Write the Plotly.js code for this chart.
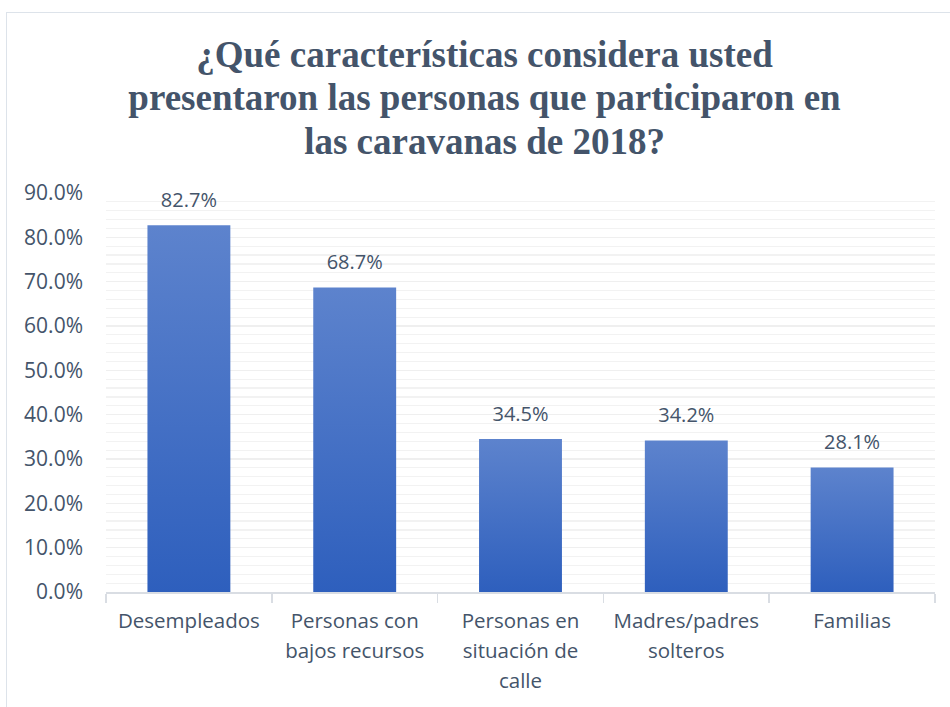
<!DOCTYPE html>
<html><head><meta charset="utf-8">
<script src="https://cdn.plot.ly/plotly-3.0.1.min.js"></script>
<style>
html,body{margin:0;padding:0;background:#fff;overflow:hidden;}
#wrap{position:relative;width:950px;height:707px;}
#chart{position:absolute;left:0;top:0;width:950px;height:707px;}
#frame{position:absolute;left:6px;top:12px;width:960px;height:720px;border:1.5px solid #dde3ea;pointer-events:none;}
</style></head>
<body>
<div id="wrap"><div id="chart"></div><div id="frame"></div></div>
<script>
const categories = ["Desempleados", "Personas con<br>bajos recursos", "Personas en<br>situación de<br>calle", "Madres/padres<br>solteros", "Familias"];
const values = [0.827, 0.687, 0.345, 0.342, 0.281];
const titleText = "¿Qué características considera usted<br>presentaron las personas que participaron en<br>las caravanas de 2018?";

const textColor = "#44546A";
const trace = {
  type: "bar",
  x: categories,
  y: values,
  width: 0.5,
  marker: {color: "#4674C8"},
  text: values.map(v => (v*100).toFixed(1) + "%"),
  textposition: "outside",
  textfont: {family: "Open Sans", size: 20, color: textColor},
  cliponaxis: false,
  hoverinfo: "none"
};
const layout = {
  width: 950, height: 707,
  margin: {l: 106, r: 15, t: 193, b: 115},
  paper_bgcolor: "#fff", plot_bgcolor: "#fff",
  showlegend: false,
  bargap: 0.5,
  title: {
    text: titleText,
    font: {family: "Liberation Serif", size: 37, color: textColor, weight: "bold"},
    x: 0.51, xref: "container", xanchor: "center",
    y: 1 - 67/707, yref: "container", yanchor: "top"
  },
  xaxis: {
    type: "category",
    showline: true, linecolor: "#d9dde3", linewidth: 1.5,
    ticks: "outside", tickson: "boundaries", ticklen: 9, tickcolor: "#d9dde3", tickwidth: 1.5,
    tickfont: {family: "Open Sans", size: 20.5, color: textColor},
    ticklabelstandoff: 10,
    showgrid: false, zeroline: false,
    fixedrange: true
  },
  yaxis: {
    range: [0, 0.9], dtick: 0.1, tick0: 0,
    tickformat: ".1%",
    tickfont: {family: "Open Sans", size: 21, color: textColor},
    ticklabelstandoff: 22,
    showgrid: true, gridcolor: "#efefef", gridwidth: 1.2,
    minor: {dtick: 0.02, showgrid: true, gridcolor: "#f2f2f2", gridwidth: 1.2},
    zeroline: false, showline: false,
    fixedrange: true
  }
};
function scaleDy(nodes, factor) {
  nodes.forEach(t => {
    const d = parseFloat(t.getAttribute("dy") || "0");
    if (d > 0) t.setAttribute("dy", (d * factor) + "em");
  });
}
Plotly.newPlot("chart", [trace], layout, {staticPlot: true, displayModeBar: false}).then(gd => {
  const svg = gd.querySelector("svg.main-svg");
  const ns = "http://www.w3.org/2000/svg";
  let defs = svg.querySelector("defs");
  if (!defs) { defs = document.createElementNS(ns, "defs"); svg.insertBefore(defs, svg.firstChild); }
  const lg = document.createElementNS(ns, "linearGradient");
  lg.setAttribute("id", "barGrad");
  lg.setAttribute("x1", "0"); lg.setAttribute("y1", "0");
  lg.setAttribute("x2", "0"); lg.setAttribute("y2", "1");
  [["0", "#5D83CD"], ["1", "#2E5FBD"]].forEach(([o, c]) => {
    const s = document.createElementNS(ns, "stop");
    s.setAttribute("offset", o); s.setAttribute("stop-color", c);
    lg.appendChild(s);
  });
  defs.appendChild(lg);
  gd.querySelectorAll(".bars .point path").forEach(p => { p.style.fill = "url(#barGrad)"; });
  scaleDy(gd.querySelectorAll(".xtick text tspan.line"), 1.45 / 1.3);
  scaleDy(gd.querySelectorAll(".gtitle tspan.line"), 1.17 / 1.3);
  gd.querySelectorAll(".bars .point text.bartext").forEach(t => {
    const tr = t.getAttribute("transform") || "";
    t.setAttribute("transform", "translate(0,-9) " + tr);
  });
});
</script>
</body></html>
